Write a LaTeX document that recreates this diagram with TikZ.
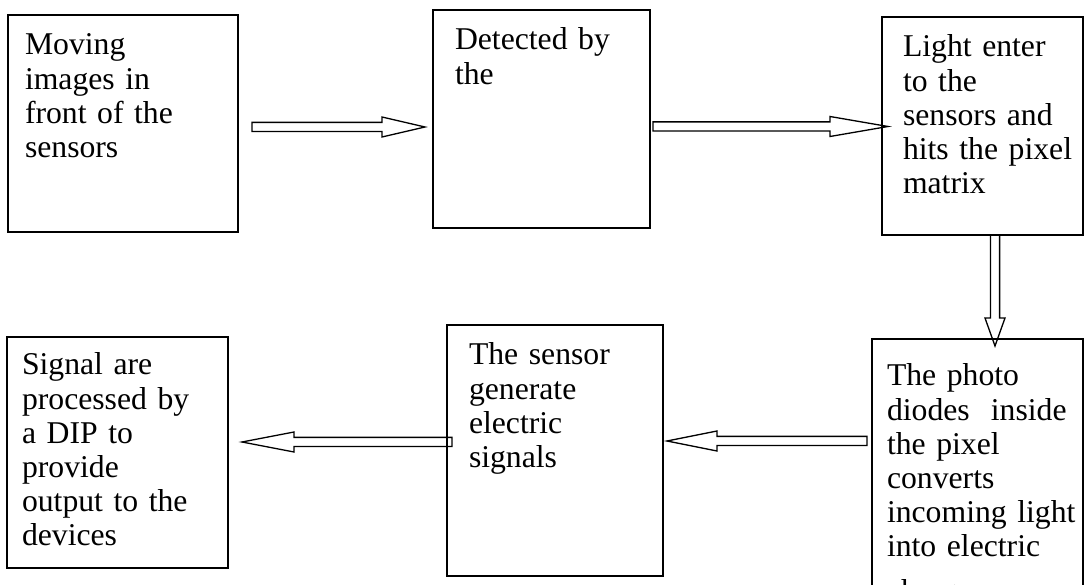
\documentclass[tikz,border=0pt]{standalone}
\usepackage{fontspec}
\setmainfont{Liberation Serif}
\usetikzlibrary{calc}

\tikzset{
  box/.style={draw=black, line width=1.6pt, rectangle, anchor=north west,
    inner sep=0pt, outer sep=0pt},
  txt/.style={anchor=base west, inner sep=0pt, outer sep=0pt, align=left,
    text width=300pt, font=\fontsize{31.7}{34.2}\selectfont},
  % hollow block arrow from start to target; argument = head length (pt)
  blockarrow/.style={line width=1.3pt, draw=black, fill=white, line join=miter,
    to path={
      let \p1=(\tikztostart), \p2=(\tikztotarget),
          \n1={veclen(\x2-\x1,\y2-\y1)},
          \n2={(\x2-\x1)/\n1}, \n3={(\y2-\y1)/\n1},
          \n4={\n1-#1} in
      ({\x1-\n3*4.6pt},{\y1+\n2*4.6pt})
      -- ({\x1+\n4*\n2*1pt-\n3*4.6pt},{\y1+\n4*\n3*1pt+\n2*4.6pt})
      -- ({\x1+\n4*\n2*1pt-\n3*10pt},{\y1+\n4*\n3*1pt+\n2*10pt})
      -- (\tikztotarget)
      -- ({\x1+\n4*\n2*1pt+\n3*10pt},{\y1+\n4*\n3*1pt-\n2*10pt})
      -- ({\x1+\n4*\n2*1pt+\n3*4.6pt},{\y1+\n4*\n3*1pt-\n2*4.6pt})
      -- ({\x1+\n3*4.6pt},{\y1-\n2*4.6pt})
      -- cycle
    }},
}

\begin{document}
\begin{tikzpicture}[x=1pt, y=-1pt]
  \clip (0,0) rectangle (1088,585);

  % end points of the block arrows
  \coordinate (a1s) at (252,127);    \coordinate (a1e) at (425,127);
  \coordinate (a2s) at (653,126.5);  \coordinate (a2e) at (888,126.5);
  \coordinate (a3s) at (995,235);    \coordinate (a3e) at (995,346);
  \coordinate (a4s) at (867,441);    \coordinate (a4e) at (667,441);
  \coordinate (a5s) at (452,442);    \coordinate (a5e) at (242,442);

  % block arrows
  \draw[blockarrow=43] (a1s) to (a1e);
  \draw[blockarrow=58] (a2s) to (a2e);
  \draw[blockarrow=28] (a3s) to (a3e);
  \draw[blockarrow=50] (a4s) to (a4e);
  \draw[blockarrow=52] (a5s) to (a5e);

  % boxes
  \node[box, minimum width=230pt, minimum height=217pt] (b1) at (8,15) {};
  \node[box, minimum width=217pt, minimum height=218pt] (b2) at (433,10) {};
  \node[box, minimum width=201pt, minimum height=218pt] (b3) at (882,17) {};
  \node[box, minimum width=211pt, minimum height=281pt] (b4) at (872,339) {};
  \node[box, minimum width=216pt, minimum height=251pt] (b5) at (447,325) {};
  \node[box, minimum width=221pt, minimum height=231pt] (b6) at (7,337) {};

  % box texts
  \node[txt] (t1) at (25,55) {Moving\\images in\\front of the\\sensors};
  \node[txt] (t2) at (455,50) {Detected by\\the};
  \node[txt] (t3) at (903,57) {Light enter\\to the\\sensors and\\hits the pixel\\matrix};
  \node[txt] (t4) at (887,386) {The photo\\diodes\ \ inside\\the pixel\\converts\\incoming light\\into electric\\[10pt]charges};
  \node[txt] (t5) at (469,365) {The sensor\\generate\\electric\\signals};
  \node[txt] (t6) at (22,375) {Signal are\\processed by\\a DIP to\\provide\\output to the\\devices};
\end{tikzpicture}
\end{document}
